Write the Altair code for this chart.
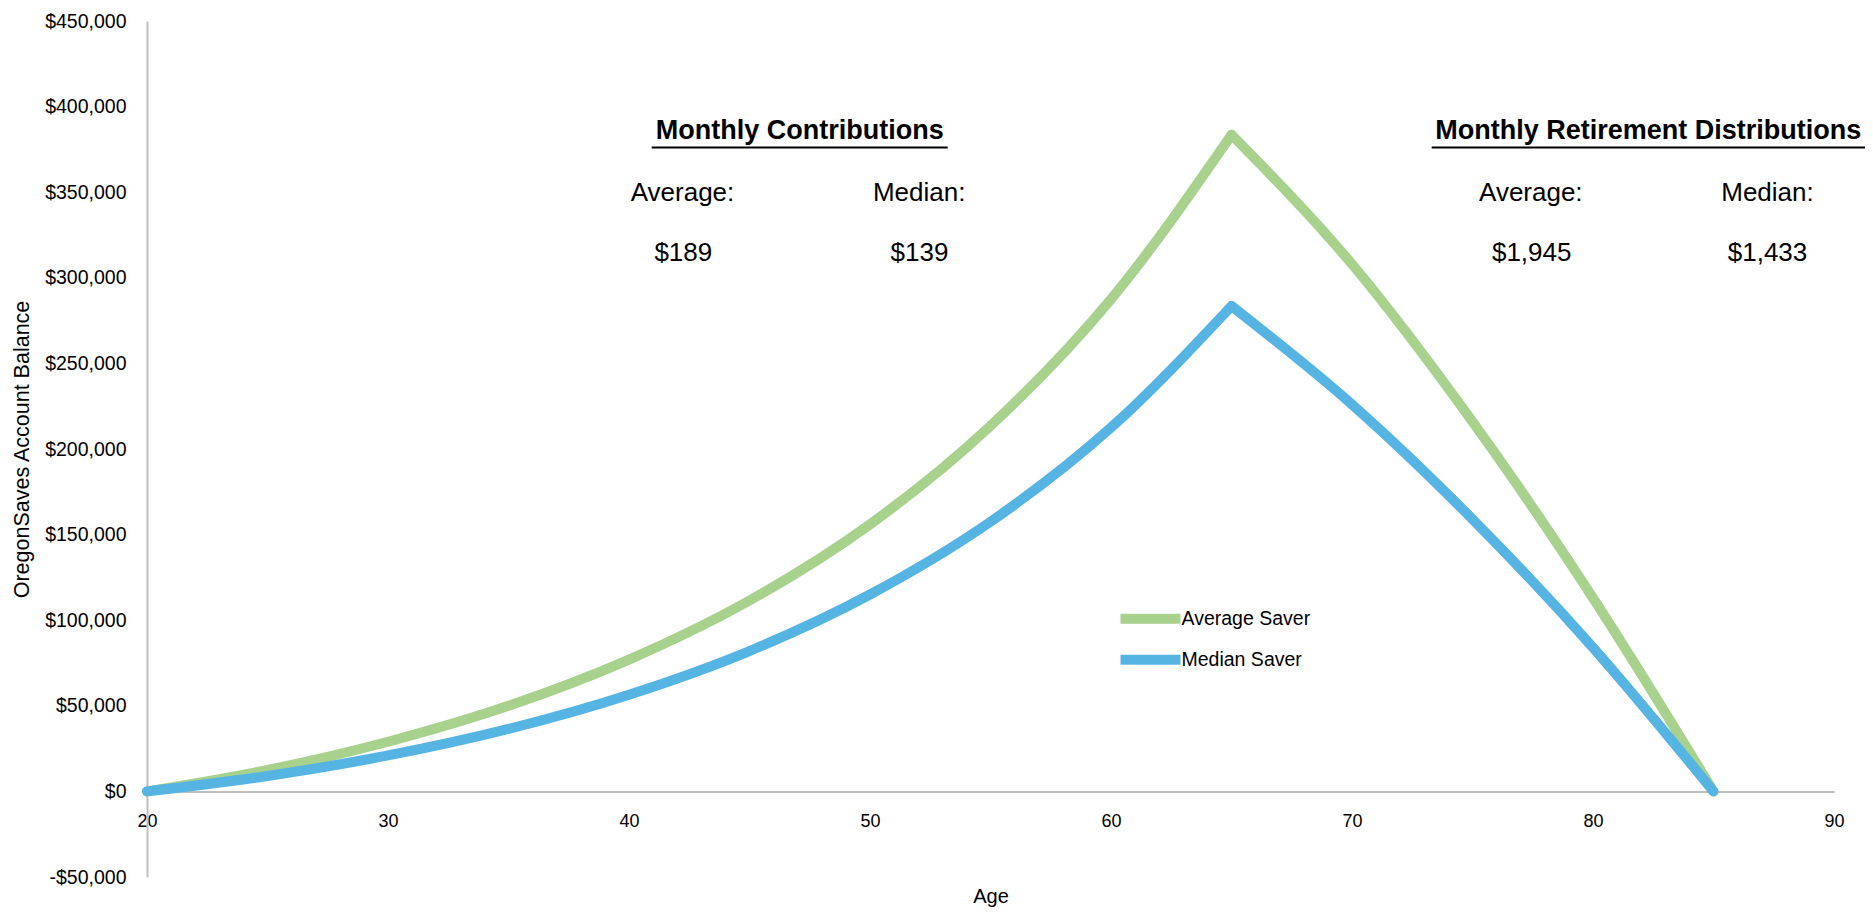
import altair as alt
import pandas as pd

FONT = "Liberation Sans, Arial, Helvetica, sans-serif"

# Account balance while contributing (age 20 to 65)
ages_saving = [20, 25, 30, 35, 40, 45, 50, 55, 60, 65]
average_saving = [0, 12500, 29000, 50000, 77000, 111500, 156000, 213500, 287500, 383500]
median_saving = [0, 9000, 21000, 36500, 56500, 82000, 115000, 157500, 212500, 283500]

# Account balance while drawing down in retirement (age 65 to 85)
ages_payout = [65, 70, 75, 80, 85]
average_payout = [383500, 308000, 216000, 113000, 0]
median_payout = [283500, 226000, 159000, 84000, 0]

series_names = ["Average Saver", "Median Saver"]
series_colors = ["#A9D18E", "#56B4E3"]

age_ticks = [20, 30, 40, 50, 60, 70, 80, 90]
balance_ticks = [-50000, 0, 50000, 100000, 150000, 200000, 250000,
                 300000, 350000, 400000, 450000]

contrib_heading = "Monthly Contributions"
payout_heading = "Monthly Retirement Distributions"
stat_labels = ["Average:", "Median:"]
contrib_values = ["$189", "$139"]
payout_values = ["$1,945", "$1,433"]

rows = []
for name, saving, payout in [
    (series_names[0], average_saving, average_payout),
    (series_names[1], median_saving, median_payout),
]:
    for a, v in zip(ages_saving, saving):
        rows.append({"series": name, "phase": "saving", "age": a, "balance": v})
    for a, v in zip(ages_payout, payout):
        rows.append({"series": name, "phase": "payout", "age": a, "balance": v})
df = pd.DataFrame(rows)

W, H = 1687, 856
zero_offset = -H * 50000 / 500000  # put the age axis on the $0 line

lines = alt.Chart(df).mark_line(
    strokeWidth=10, strokeCap="round", strokeJoin="round", interpolate="monotone"
).encode(
    x=alt.X(
        "age:Q",
        scale=alt.Scale(domain=[20, 90], nice=False, zero=False),
        axis=alt.Axis(
            values=age_ticks, format="d", title="Age", offset=zero_offset,
            grid=False, ticks=False, tickSize=0, domainColor="#BFBFBF", domainWidth=2,
            labelFont=FONT, labelFontSize=18, labelColor="black", labelPadding=30,
            labelBaseline="middle", labelFlush=False,
            titleFont=FONT, titleFontSize=20, titleFontWeight="normal", titleColor="black",
            titleY=105, titleBaseline="middle",
        ),
    ),
    y=alt.Y(
        "balance:Q",
        scale=alt.Scale(domain=[-50000, 450000], nice=False, zero=False),
        axis=alt.Axis(
            values=balance_ticks,
            labelExpr="(datum.value < 0 ? '-' : '') + '$' + format(abs(datum.value), ',')",
            title="OregonSaves Account Balance",
            grid=False, ticks=False, tickSize=0, domainColor="#BFBFBF", domainWidth=2,
            labelFont=FONT, labelFontSize=19.5, labelColor="black", labelPadding=21,
            titleFont=FONT, titleFontSize=21.5, titleFontWeight="normal", titleColor="black",
            titleX=-125, titleY=H / 2, titleAngle=270, titleAlign="center",
            titleBaseline="middle",
        ),
    ),
    color=alt.Color(
        "series:N",
        scale=alt.Scale(domain=series_names, range=series_colors),
        legend=alt.Legend(
            title=None, orient="none", legendX=993.5, legendY=587.7, padding=0,
            symbolType="M-6,0H6", symbolSize=100, symbolStrokeWidth=10,
            labelFont=FONT, labelFontSize=19.5, labelColor="black",
            labelOffset=21, rowPadding=1,
        ),
    ),
    detail="phase:N",
)


def note(text, x, y, size, weight="normal"):
    return alt.Chart(alt.Data(values=[{}])).mark_text(
        text=text, font=FONT, fontSize=size, fontWeight=weight,
        align="center", baseline="alphabetic", color="black",
    ).encode(x=alt.value(x), y=alt.value(y))


def underline(x1, x2, y):
    return alt.Chart(alt.Data(values=[{}])).mark_rule(
        color="black", strokeWidth=2
    ).encode(x=alt.value(x1), x2=alt.value(x2), y=alt.value(y))


annotations = [
    note(contrib_heading, 652.7, 117.7, 27, "bold"),
    underline(504.7, 800.7, 126.4),
    note(stat_labels[0], 535.5, 179.5, 26),
    note(stat_labels[1], 772.2, 179.5, 26),
    note(contrib_values[0], 536.3, 239.5, 26),
    note(contrib_values[1], 772.5, 239.5, 26),
    note(payout_heading, 1501.3, 117.7, 27, "bold"),
    underline(1284.7, 1718, 126.4),
    note(stat_labels[0], 1383.8, 179.5, 26),
    note(stat_labels[1], 1620.5, 179.5, 26),
    note(payout_values[0], 1384.7, 239.5, 26),
    note(payout_values[1], 1620.5, 239.5, 26),
]

chart = alt.layer(lines, *annotations).properties(
    width=W,
    height=H,
    padding={"left": 147, "top": 21, "right": 39, "bottom": 38},
    autosize=alt.AutoSizeParams(type="none"),
    background="white",
).configure_view(stroke=None)

chart.save("out.html", embed_options={"renderer": "svg", "actions": False})
